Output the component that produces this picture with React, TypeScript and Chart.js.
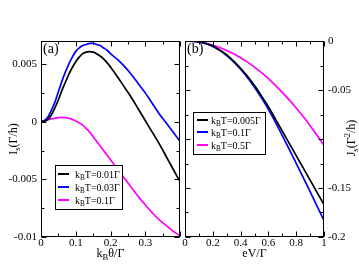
import React, { useEffect, useRef } from "react";
import { Chart, registerables } from "chart.js";
Chart.register(...registerables);

const FONT = '"Liberation Serif", "Times New Roman", Times, serif';

// ---------- Panel (a): I_s vs kB theta / Gamma ----------
const thetaA = [0, 0.01, 0.02, 0.03, 0.04, 0.05, 0.06, 0.07, 0.08, 0.09, 0.1, 0.11, 0.12, 0.13, 0.14, 0.15, 0.16, 0.17, 0.18, 0.19, 0.2, 0.22, 0.24, 0.26, 0.28, 0.3, 0.32, 0.34, 0.36, 0.38, 0.4];
const isT001 = [0, 0.00003, 0.0002, 0.0006, 0.0012, 0.0019, 0.0027, 0.0034, 0.0041, 0.0047, 0.0052, 0.0056, 0.0059, 0.00603, 0.00607, 0.00603, 0.0059, 0.0057, 0.00545, 0.00512, 0.00475, 0.0039, 0.003, 0.0021, 0.0011, 0.0001, -0.0009, -0.0019, -0.003, -0.0041, -0.0052];
const isT003 = [0, 0.0001, 0.0004, 0.001, 0.0017, 0.0026, 0.0035, 0.0043, 0.005, 0.0056, 0.0061, 0.0064, 0.0066, 0.0067, 0.0068, 0.0068, 0.0067, 0.0066, 0.0064, 0.0062, 0.0059, 0.0054, 0.0048, 0.0041, 0.0033, 0.0025, 0.0016, 0.0007, -0.0001, -0.0009, -0.0017];
const isT01 = [0, 0.00008, 0.00016, 0.00024, 0.0003, 0.00035, 0.00037, 0.00036, 0.0003, 0.0002, 0.00006, -0.0001, -0.0003, -0.0006, -0.0009, -0.0013, -0.0017, -0.0021, -0.0025, -0.0029, -0.0033, -0.0041, -0.0049, -0.0057, -0.0065, -0.0072, -0.0079, -0.0085, -0.009, -0.0095, -0.0099];
const legendA = ["k_BT=0.01Γ", "k_BT=0.03Γ", "k_BT=0.1Γ"];
const xTicksA = [0, 0.1, 0.2, 0.3, 0.4];
const xTickLabelsA = ["0", "0.1", "0.2", "0.3", ""];
const xMinorA = [0.05, 0.15, 0.25, 0.35];
const yTicksA = [-0.01, -0.005, 0, 0.005];
const yTickLabelsA = ["-0.01", "-0.005", "0", "0.005"];
const yMinorA = [-0.0075, -0.0025, 0.0025];

// ---------- Panel (b): J_s vs eV / Gamma ----------
const evB = [0, 0.05, 0.1, 0.15, 0.2, 0.25, 0.3, 0.35, 0.4, 0.45, 0.5, 0.55, 0.6, 0.65, 0.7, 0.75, 0.8, 0.85, 0.9, 0.95, 1.0];
const jsT0005 = [0, -0.0001, -0.0007, -0.0025, -0.0052, -0.0092, -0.0142, -0.0205, -0.0278, -0.036, -0.0455, -0.056, -0.067, -0.0795, -0.092, -0.1045, -0.117, -0.1295, -0.142, -0.1545, -0.167];
const jsT01 = [0, -0.0002, -0.0009, -0.0027, -0.0055, -0.0096, -0.0148, -0.0212, -0.0288, -0.0375, -0.0472, -0.058, -0.0698, -0.0828, -0.0965, -0.1105, -0.1248, -0.1392, -0.1538, -0.1684, -0.183];
const jsT05 = [0, -0.0003, -0.0011, -0.0024, -0.0043, -0.0067, -0.0096, -0.0131, -0.0171, -0.0216, -0.0267, -0.0323, -0.0385, -0.0452, -0.0524, -0.0601, -0.0684, -0.0771, -0.0864, -0.0962, -0.1065];
const legendB = ["k_BT=0.005Γ", "k_BT=0.1Γ", "k_BT=0.5Γ"];
const xTicksB = [0, 0.2, 0.4, 0.6, 0.8, 1];
const xTickLabelsB = ["0", "0.2", "0.4", "0.6", "0.8", "1"];
const xMinorB = [0.1, 0.3, 0.5, 0.7, 0.9];
const yTicksB = [-0.2, -0.15, -0.1, -0.05, 0];
const yTickLabelsB = ["-0.2", "-0.15", "", "-0.05", "0"];
const yMinorB = [-0.175, -0.125, -0.075, -0.025];

const COLORS = ["#000000", "#0000ff", "#ff00ff"];

function parseRich(text: string) {
  const segs: { t: string; k: "n" | "sub" | "sup" }[] = [];
  let buf = "";
  for (let i = 0; i < text.length; i++) {
    const c = text[i];
    if ((c === "_" || c === "^") && i + 1 < text.length) {
      if (buf) { segs.push({ t: buf, k: "n" }); buf = ""; }
      segs.push({ t: text[i + 1], k: c === "_" ? "sub" : "sup" });
      i++;
    } else buf += c;
  }
  if (buf) segs.push({ t: buf, k: "n" });
  return segs;
}

function drawRich(ctx: CanvasRenderingContext2D, text: string, x: number, y: number, size: number, align: "left" | "center") {
  const segs = parseRich(text);
  const small = size * 0.72;
  const widths = segs.map((s) => {
    ctx.font = `${s.k === "n" ? size : small}px ${FONT}`;
    return ctx.measureText(s.t).width;
  });
  const total = widths.reduce((a, b) => a + b, 0);
  let cx = align === "center" ? x - total / 2 : x;
  ctx.textAlign = "left";
  ctx.textBaseline = "alphabetic";
  segs.forEach((s, i) => {
    ctx.font = `${s.k === "n" ? size : small}px ${FONT}`;
    const dy = s.k === "sub" ? size * 0.28 : s.k === "sup" ? -size * 0.42 : 0;
    ctx.fillText(s.t, cx, y + dy);
    cx += widths[i];
  });
}

type Cfg = {
  x: number[];
  series: number[][];
  xMin: number; xMax: number; yMin: number; yMax: number;
  xTicks: number[]; xLabels: string[]; xMinor: number[];
  yTicks: number[]; yLabels: string[]; yMinor: number[];
  yPos: "left" | "right"; yWidth: number;
  padding: { top: number; left: number; right: number; bottom: number };
  panel: string;
  legend: { labels: string[]; x: number; y: number; w: number; h: number; rows: number[]; lx1: number; lx2: number; tx: number };
  xTitle: string; yTitle: string; yTitleX: number; yTitleY: number; xTitleY: number;
};

function makeDecor(cfg: Cfg) {
  return {
    id: "decor",
    afterDraw(chart: any) {
      const ctx: CanvasRenderingContext2D = chart.ctx;
      const { left, right, top, bottom } = chart.chartArea;
      const xs = chart.scales.x;
      const ys = chart.scales.y;
      ctx.save();
      ctx.strokeStyle = "#000";
      ctx.lineWidth = 1;
      const L = Math.round(left) + 0.5, R = Math.round(right) - 0.5, T = Math.round(top) + 0.5, B = Math.round(bottom) - 0.5;
      ctx.strokeRect(L, T, R - L, B - T);
      ctx.beginPath();
      const xTick = (v: number, len: number) => {
        const p = Math.round(xs.getPixelForValue(v)) + 0.5;
        ctx.moveTo(p, B); ctx.lineTo(p, B - len);
        ctx.moveTo(p, T); ctx.lineTo(p, T + len);
      };
      const yTick = (v: number, len: number) => {
        const p = Math.round(ys.getPixelForValue(v)) + 0.5;
        ctx.moveTo(L, p); ctx.lineTo(L + len, p);
        ctx.moveTo(R, p); ctx.lineTo(R - len, p);
      };
      cfg.xTicks.forEach((v) => xTick(v, 5));
      cfg.xMinor.forEach((v) => xTick(v, 3));
      cfg.yTicks.forEach((v) => yTick(v, 5));
      cfg.yMinor.forEach((v) => yTick(v, 3));
      ctx.stroke();

      // legend
      const lg = cfg.legend;
      ctx.fillStyle = "#fff";
      ctx.fillRect(lg.x, lg.y, lg.w, lg.h);
      ctx.strokeStyle = "#000";
      ctx.lineWidth = 1;
      ctx.strokeRect(lg.x + 0.5, lg.y + 0.5, lg.w, lg.h);
      lg.labels.forEach((lab, i) => {
        ctx.strokeStyle = COLORS[i];
        ctx.lineWidth = 2;
        ctx.beginPath();
        ctx.moveTo(lg.lx1, lg.rows[i]);
        ctx.lineTo(lg.lx2, lg.rows[i]);
        ctx.stroke();
        ctx.fillStyle = "#000";
        drawRich(ctx, lab, lg.tx, lg.rows[i] + 3.5, 10, "left");
      });

      // panel label
      ctx.fillStyle = "#000";
      ctx.font = `14px ${FONT}`;
      ctx.textAlign = "left";
      ctx.textBaseline = "alphabetic";
      ctx.fillText(cfg.panel, left + 2, 53);

      // axis titles
      drawRich(ctx, cfg.xTitle, (left + right) / 2, cfg.xTitleY, 12, "center");
      ctx.save();
      ctx.translate(cfg.yTitleX, cfg.yTitleY);
      ctx.rotate(-Math.PI / 2);
      drawRich(ctx, cfg.yTitle, 0, 0, 12, "center");
      ctx.restore();
      ctx.restore();
    },
  };
}

function labelFor(ticks: number[], labels: string[], v: number) {
  const i = ticks.findIndex((t) => Math.abs(t - v) < 1e-9);
  return i >= 0 ? labels[i] : "";
}

function makeChart(canvas: HTMLCanvasElement, cfg: Cfg) {
  const tickFont = { family: FONT, size: 11 };
  return new Chart(canvas, {
    type: "line",
    data: {
      datasets: cfg.series.map((ys, k) => ({
        data: cfg.x.map((xv, i) => ({ x: xv, y: ys[i] })),
        borderColor: COLORS[k],
        borderWidth: 1.7,
        pointRadius: 0,
        fill: false,
        cubicInterpolationMode: "monotone" as const,
      })),
    },
    options: {
      animation: false,
      responsive: false,
      events: [],
      layout: { padding: cfg.padding },
      plugins: { legend: { display: false }, tooltip: { enabled: false } },
      scales: {
        x: {
          type: "linear",
          position: "bottom",
          min: cfg.xMin,
          max: cfg.xMax,
          afterBuildTicks: (s: any) => { s.ticks = cfg.xTicks.map((v) => ({ value: v })); },
          afterFit: (s: any) => { s.height = 41; },
          grid: { display: false, drawTicks: false },
          border: { display: false },
          ticks: {
            autoSkip: false,
            maxRotation: 0,
            padding: 0,
            color: "#000",
            font: tickFont,
            callback: (v: any) => labelFor(cfg.xTicks, cfg.xLabels, Number(v)),
          },
        },
        y: {
          type: "linear",
          position: cfg.yPos,
          min: cfg.yMin,
          max: cfg.yMax,
          afterBuildTicks: (s: any) => { s.ticks = cfg.yTicks.map((v) => ({ value: v })); },
          afterFit: (s: any) => { s.width = cfg.yWidth; },
          grid: { display: false, drawTicks: false },
          border: { display: false },
          ticks: {
            autoSkip: false,
            padding: 4,
            color: "#000",
            font: tickFont,
            callback: (v: any) => labelFor(cfg.yTicks, cfg.yLabels, Number(v)),
          },
        },
      },
    } as any,
    plugins: [makeDecor(cfg)],
  });
}

export default function App() {
  const refA = useRef<HTMLCanvasElement>(null);
  const refB = useRef<HTMLCanvasElement>(null);

  useEffect(() => {
    const cfgA: Cfg = {
      x: thetaA,
      series: [isT001, isT003, isT01],
      xMin: 0, xMax: 0.4, yMin: -0.01, yMax: 0.007,
      xTicks: xTicksA, xLabels: xTickLabelsA, xMinor: xMinorA,
      yTicks: yTicksA, yLabels: yTickLabelsA, yMinor: yMinorA,
      yPos: "left", yWidth: 41,
      padding: { top: 41, left: 0, right: 2, bottom: 0 },
      panel: "(a)",
      legend: { labels: legendA, x: 55, y: 165, w: 67, h: 44, rows: [174, 187, 200], lx1: 58, lx2: 69, tx: 75 },
      xTitle: "k_Bθ/Γ", yTitle: "I_s(Γ/h)", yTitleX: 17, yTitleY: 139, xTitleY: 257,
    };
    const cfgB: Cfg = {
      x: evB,
      series: [jsT0005, jsT01, jsT05],
      xMin: 0, xMax: 1, yMin: -0.2, yMax: 0,
      xTicks: xTicksB, xLabels: xTickLabelsB, xMinor: xMinorB,
      yTicks: yTicksB, yLabels: yTickLabelsB, yMinor: yMinorB,
      yPos: "right", yWidth: 35,
      padding: { top: 41, left: 3, right: 0, bottom: 0 },
      panel: "(b)",
      legend: { labels: legendB, x: 11, y: 112, w: 72, h: 42, rows: [120, 132, 145], lx1: 15, lx2: 26, tx: 29 },
      xTitle: "eV/Γ", yTitle: "J_s(Γ^2/h)", yTitleX: 173, yTitleY: 138, xTitleY: 257,
    };
    const a = makeChart(refA.current!, cfgA);
    const b = makeChart(refB.current!, cfgB);
    return () => { a.destroy(); b.destroy(); };
  }, []);

  return (
    <div style={{ position: "absolute", left: 0, top: 0, width: 359, height: 278, background: "#fff" }}>
      <canvas ref={refA} width={182} height={278} style={{ position: "absolute", left: 0, top: 0, width: 182, height: 278 }} />
      <canvas ref={refB} width={177} height={278} style={{ position: "absolute", left: 182, top: 0, width: 177, height: 278 }} />
    </div>
  );
}
